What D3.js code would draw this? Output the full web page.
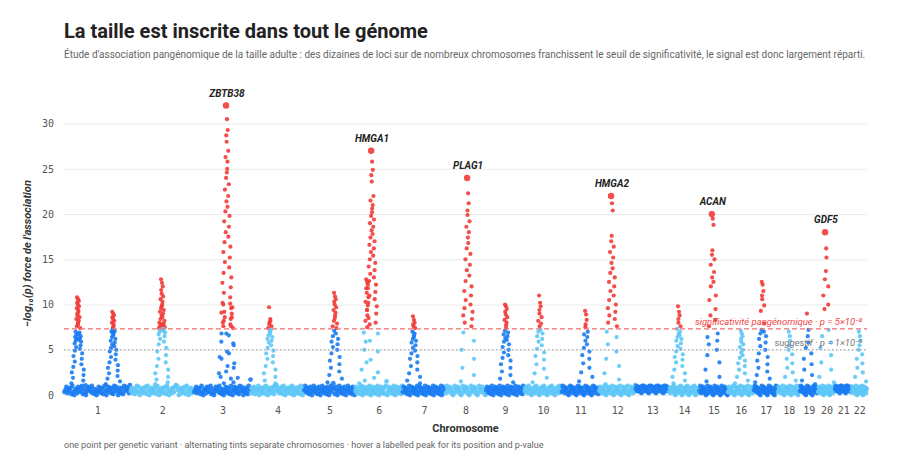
<!DOCTYPE html>
<html><head><meta charset="utf-8">
<script src="https://cdn.jsdelivr.net/npm/d3@7"></script>
<style>body{margin:0;background:#fff;font-family:Roboto,"Noto Sans",sans-serif}</style>
</head><body><svg id="c" width="900" height="461"></svg>
<script>
// Chromosome names and approximate lengths (Mb, as drawn)
const chromosomes = ["1","2","3","4","5","6","7","8","9","10","11","12","13","14","15","16","17","18","19","20","21","22"];
const chromLengths = [238,228,204,190,183,170,154,145,138,133,134,131,120,109,102,93,86,79,65,61,59,56];
// Background variants: one char per variant, evenly spread along each chromosome; digit d -> d/9, letters a.. -> 1.1, 1.3, ...
const background = [
"3582647193056284739162048573926150483726194058372619485037261948572a",
"4726159380462738195047263819504726381950462738a950472638195047263",
"358264719305628473916204857392615048372619405837261948503726194d",
"27481635904726381950472638195a4726381950472638195047263819504",
"5937261840593726184059372618405937b6184059372618405937261840",
"48263719504826371950482637195048263719c0482637195048263719",
"384726159038472615903847261590384726159038472615903847",
"29573846102957384610295738461029573846102957384610",
"5837261940583726194058372619405837261940583726194",
"473829561047382956104738295610473829561047382956",
"3958264710395826471039582647103958264710395826471",
"48572639104857263910485726391048572639104857263a",
"6948573829694857382969485738296948573829694857",
"372648591037264859103726485910372648591037264",
"4927385610492738561049273856104927385610",
"385726491038572649103857264910385726",
"5948372610594837261059483726105948",
"38572649103857264910385726491038",
"4958372610495837261049583726",
"3857264910385726491038572649",
"6948573829694857382969485738",
"38572649103857264910385726"
];
// Association peaks: chromosome index, position (Mb), -log10(p) values of variants in the peak
const peakChrom = [0,0,1,2,2,2,3,4,5,5,6,7,8,9,10,11,13,14,15,16,17,18,19,21];
const peakPos = [50,176,113,108,118,133,68,111,43,61,41,81,72,56,88,47,36,48,50,32,43,29,29,30];
const peakGene = ["","","","","ZBTB38","","","","","HMGA1","","PLAG1","","","","HMGA2","","ACAN","","","","","GDF5",""];
const peakValues = [
"10.8 10.6 10.4 10.2 10 9.8 9.6 9.4 9.2 9 8.8 8.6 8.4 8.2 8 7.8 7.6 7.4 7 6.9 6.8 6.7 6.6 6.5 6.4 6.3 6.2 6.1 6 5.9 5.7 5.5 5.3 5.1 4.9 4.6 4.3 4 3.7 3.4 3.1 2.8 2.5 2.2 1.9 1.6 1.3 1.1",
"9.2 9 8.8 8.6 8.4 8.2 8 7.8 7.6 7.4 7.2 7.1 7 6.9 6.8 6.6 6.4 6.2 6 5.8 5.6 5.4 5.2 5 4.8 4.5 4.2 3.9 3.6 3.3 3 2.7 2.4 2.1 1.8 1.5 1.2",
"12.8 12.4 12 11.6 11.2 10.9 10.6 10.3 10 9.8 9.6 9.4 9.2 9 8.8 8.6 8.4 8.2 8 7.9 7.8 7.7 7.6 7.5 7.4 7.3 7.2 7.1 7 6.9 6.7 6.5 6.2 5.9 5.6 5.2 4.8 4.4 4 3.6 3.2 2.8 2.4 2 1.7 1.4 1.2",
"10 9.2 8.6 8.2 7.6 6.8 5.9 4.8 4 3.2 2.4 1.8",
"32 30.5 29.3 28.7 28 27 26.3 25.8 25 24.6 24 23.3 22.7 22 21.4 20.8 20.3 19.8 19.2 18.6 18 17.5 16.9 16.4 15.8 15.2 14.7 14.1 13.5 13 12.4 11.9 11.3 10.8 10.2 9.7 9.1 8.6 8 7.6 6.8 5.5 4.2 3 2 1.4",
"10.1 9.6 9 8.4 7.8 7.4 6.6 5.7 4.6 3.5 2.6 1.9 1.3",
"9.7 8.4 8.2 8 7.8 7.6 7.4 7.2 7 6.8 6.6 6.4 6.2 6 5.8 5.5 5.2 4.9 4.6 4.3 4 3.6 3.2 2.8 2.4 2 1.6 1.3",
"11.3 10.9 10.6 10.3 10 9.7 9.4 9.1 8.8 8.5 8.2 7.9 7.6 7.4 7.1 6.8 6.5 6.2 5.9 5.6 5.3 5 4.6 4.2 3.8 3.4 3 2.6 2.2 1.8 1.4",
"12.8 12.5 12.2 11.8 11.3 10.8 10.3 9.9 9.4 8.8 8.2 7.8 6.9 6 5 3.9 2.8 1.9 1.3",
"27 25.8 24.9 24.3 23.6 22 21.5 21 20.6 20.2 19.8 19.4 19 18.6 18.2 17.8 17.4 17 16.6 16.2 15.8 15.4 15 14.6 14.2 13.8 13.4 13 12.6 12.2 11.8 11.4 11 10.6 10.2 9.8 9.4 9 8.5 8 7.5 6.8 5.9 4.8 3.6 2.5 1.6",
"8.7 8.3 8 7.8 7.6 7.4 7 6.8 6.6 6.4 6.2 6 5.8 5.5 5.2 4.9 4.6 4.3 4 3.6 3.2 2.8 2.4 2 1.6 1.3",
"24 22.3 21.2 20.4 19.9 19.2 18.6 18 17.4 16.8 16.2 15.6 15 14.4 13.8 13.2 12.6 12 11.5 11 10.5 10 9.6 9.2 8.8 8.4 8 7.6 6.9 6 5 4 3 2.2 1.5",
"10 9.8 9.5 9.2 8.9 8.6 8.3 8 7.7 7.4 7.1 6.9 6.7 6.5 6.3 6.1 5.9 5.6 5.3 5 4.7 4.4 4.1 3.8 3.4 3 2.6 2.2 1.8 1.4",
"11 10.2 9.8 9.4 9 8.6 8.2 7.9 7.6 7.2 7 6.8 6.5 6.2 5.9 5.5 5.1 4.7 4.3 3.9 3.4 2.9 2.4 1.9 1.4",
"9.3 8.9 8.3 7.8 7.5 7 6.7 6.4 6 5.6 5.2 4.8 4.4 4 3.5 3 2.5 2 1.5",
"22 21.2 20.4 17.6 17 16.4 15.8 15.2 14.6 14 13.5 13 12.5 12 11.5 11 10.5 10 9.6 9.2 8.8 8.4 8 7.6 7 6.4 5.6 4.8 4 3.2 2.4 1.7 1.2",
"9.8 9.2 8.8 8.4 8 7.6 7.3 7 6.8 6.6 6.4 6.2 6 5.7 5.4 5.1 4.8 4.5 4.2 3.9 3.6 3.2 2.8 2.4 2 1.6 1.3",
"20 19.5 18.8 16 15.5 15 14.4 13.6 13 12.5 12 11 10.5 9.5 8.8 8.3 7.6 6.8 6.4 6 5.6 5 4.4 3.6 2.8 2 1.5",
"7.1 6.8 6.5 6.2 5.9 5.6 5.3 5 4.7 4.4 4.1 3.8 3.5 3.2 2.8 2.4 2 1.6 1.3",
"12.5 12.2 11.5 11 10.6 9.9 9.3 7.9 7.2 7 6.8 6.5 6.2 5.8 5.4 5 4.6 4.2 3.8 3.4 3 2.6 2.2 1.8 1.4",
"7 6.5 6 5.5 5 4.5 4 3.5 3 2.5 2 1.6",
"9 7.2 6.5 5.8 5.2 4.6 4 3.4 2.8 2.2 1.6 1.2",
"18 16.2 15.2 13.7 12.8 12 11 10 9.5 7.2 6.5 5.8 5.2 4.4 3.6 2.8 2 1.4",
"7 6.5 6 5.5 5 4.5 4 3.5 3 2.5 2 1.5"
];
const yTicks = [0,5,10,15,20,25,30];
const genomeWide = 7.3, suggestive = 5;

const svg = d3.select("#c");
const L=64, R=867, T=92, B=395;
const starts = []; let acc=0; chromLengths.forEach(l=>{starts.push(acc); acc+=l;});
const x = d3.scaleLinear().domain([0,acc]).range([L,R]);
const y = d3.scaleLinear().domain([0,33.5]).range([B,T]);
const DARK="#1a7cf2", LIGHT="#5ec8f7", RED="#f23b36";
const col=(ci,v)=> v>genomeWide?RED:(ci%2===0?DARK:LIGHT);

svg.append("text").attr("x",64).attr("y",38).text("La taille est inscrite dans tout le génome")
  .attr("font-size",20).attr("font-weight",700).attr("fill","#222");
svg.append("text").attr("x",64).attr("y",58).attr("font-size",10).attr("fill","#666")
  .text("Étude d'association pangénomique de la taille adulte : des dizaines de loci sur de nombreux chromosomes franchissent le seuil de significativité, le signal est donc largement réparti.");

const ya = svg.append("g").attr("transform",`translate(${L},0)`)
  .call(d3.axisLeft(y).tickValues(yTicks).tickSize(-(R-L)).tickPadding(10));
ya.select(".domain").remove();
ya.selectAll(".tick line").attr("stroke","#ececec");
ya.selectAll(".tick text").attr("fill","#555").attr("font-size",10).attr("font-family","DejaVu Sans Mono, monospace");

const xa = svg.append("g").attr("transform",`translate(0,${B+4})`)
  .call(d3.axisBottom(x).tickValues(starts.map((s,i)=>s+chromLengths[i]/2)).tickFormat((d,i)=>chromosomes[i]).tickSize(0).tickPadding(8));
xa.select(".domain").remove();
xa.selectAll("text").attr("fill","#555").attr("font-size",10).attr("font-family","DejaVu Sans Mono, monospace");

const pts=[];
background.forEach((s,ci)=>{
  const n=s.length;
  for(let k=0;k<n;k++){
    const c=s[k]; const v = /\d/.test(c)? +c/9 : 1.1+(c.charCodeAt(0)-97)*0.2;
    pts.push({p:starts[ci]+chromLengths[ci]*(k+0.5)/n, v, ci, r:2.4});
  }
});
const pxPerMb = (R-L)/acc;
peakValues.forEach((s,pi)=>{
  const vals=s.split(" ").map(Number).sort((a,b)=>b-a);
  const top=vals[0], ci=peakChrom[pi];
  vals.forEach((v,i)=>{
    const side = i%2? 1:-1;
    const offPx = side*8*Math.pow(1-v/top,1.6) + ((i%3)-1)*0.9;
    pts.push({p:starts[ci]+peakPos[pi]+offPx/pxPerMb, v, ci, r: i===0&&peakGene[pi]?3.2:2.1});
  });
});
svg.append("g").selectAll("circle").data(pts).join("circle")
  .attr("cx",d=>x(d.p)).attr("cy",d=>y(d.v)).attr("r",d=>d.r)
  .attr("fill",d=>col(d.ci,d.v)).attr("fill-opacity",0.9);

svg.append("line").attr("x1",L).attr("x2",R).attr("y1",y(genomeWide)).attr("y2",y(genomeWide))
  .attr("stroke","#f07070").attr("stroke-width",1.3).attr("stroke-dasharray","5,3");
svg.append("line").attr("x1",L).attr("x2",R).attr("y1",y(suggestive)).attr("y2",y(suggestive))
  .attr("stroke","#999").attr("stroke-width",1).attr("stroke-dasharray","1.5,2.5");
svg.append("text").attr("x",862).attr("y",y(genomeWide)-4).attr("text-anchor","end").attr("font-size",9.5)
  .attr("font-style","italic").attr("fill","#f04444").text("significativité pangénomique · p = 5×10⁻⁸");
svg.append("text").attr("x",862).attr("y",y(suggestive)-4).attr("text-anchor","end").attr("font-size",9.5)
  .attr("font-style","italic").attr("fill","#777").text("suggestif · p = 1×10⁻⁵");

peakGene.forEach((g,pi)=>{
  if(!g) return;
  const top=d3.max(peakValues[pi].split(" ").map(Number));
  svg.append("text").attr("x",x(starts[peakChrom[pi]]+peakPos[pi])).attr("y",y(top)-9)
    .attr("text-anchor","middle").attr("font-size",10).attr("font-weight",700).attr("font-style","italic")
    .attr("fill","#222").text(g);
});

svg.append("text").attr("transform",`translate(31,${(T+B)/2+10}) rotate(-90)`).attr("text-anchor","middle")
  .attr("font-size",11).attr("font-weight",700).attr("font-style","italic").attr("fill","#333")
  .text("−log₁₀(p) force de l'association");
svg.append("text").attr("x",(L+R)/2).attr("y",432).attr("text-anchor","middle").attr("font-size",11)
  .attr("font-weight",700).attr("fill","#333").text("Chromosome");
svg.append("text").attr("x",64).attr("y",448).attr("font-size",9).attr("fill","#666")
  .text("one point per genetic variant · alternating tints separate chromosomes · hover a labelled peak for its position and p-value");
</script></body></html>
